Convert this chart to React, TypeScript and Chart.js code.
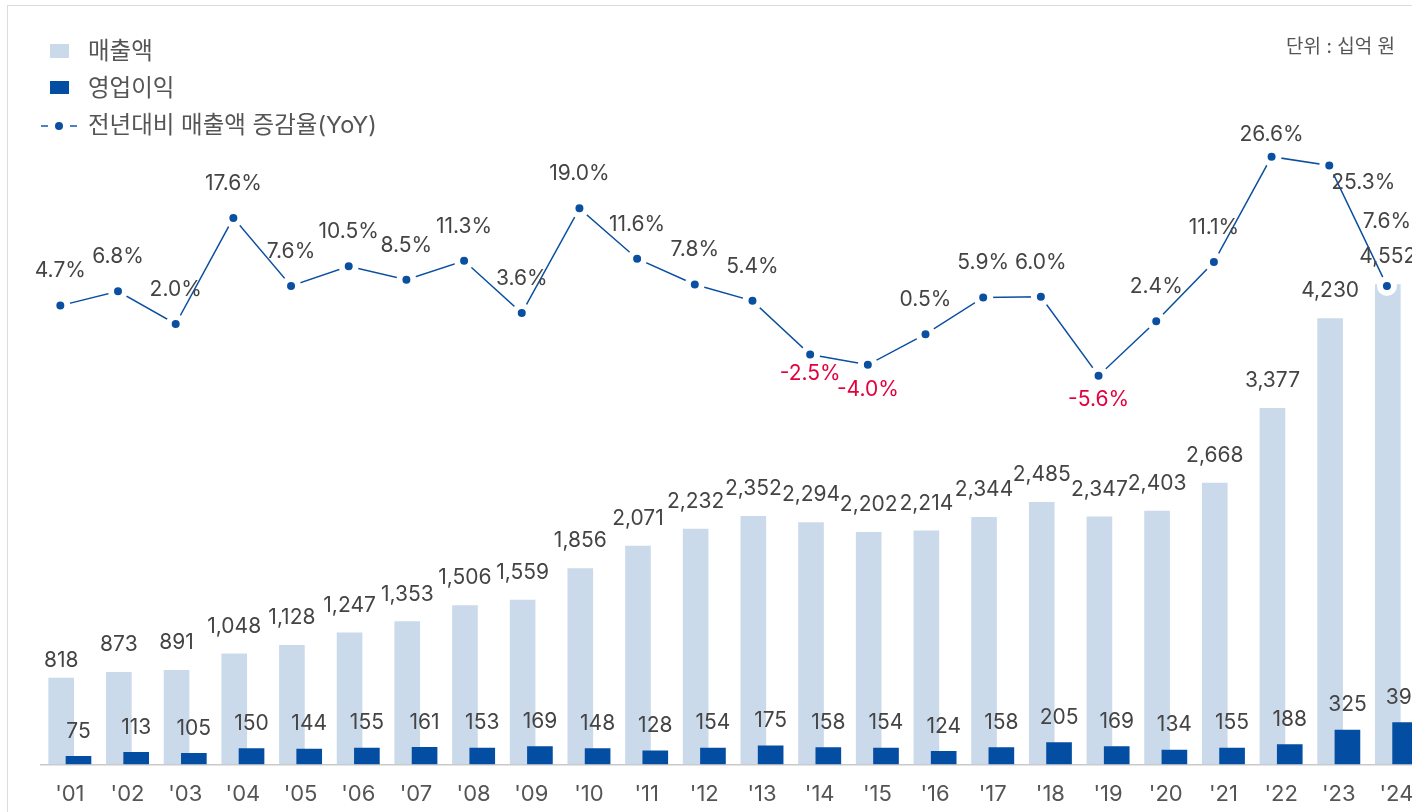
import React, { useEffect, useRef } from 'react';
import { Chart, registerables } from 'chart.js';

Chart.register(...registerables);

const FONT = "Inter, 'Noto Sans CJK KR', sans-serif";

// ---- data ----
const years = ["'01", "'02", "'03", "'04", "'05", "'06", "'07", "'08", "'09", "'10", "'11", "'12", "'13", "'14", "'15", "'16", "'17", "'18", "'19", "'20", "'21", "'22", "'23", "'24"];
const sales = [818, 873, 891, 1048, 1128, 1247, 1353, 1506, 1559, 1856, 2071, 2232, 2352, 2294, 2202, 2214, 2344, 2485, 2347, 2403, 2668, 3377, 4230, 4552];
const profit = [75, 113, 105, 150, 144, 155, 161, 153, 169, 148, 128, 154, 175, 158, 154, 124, 158, 205, 169, 134, 155, 188, 325, 395];
const yoy = [4.7, 6.8, 2.0, 17.6, 7.6, 10.5, 8.5, 11.3, 3.6, 19.0, 11.6, 7.8, 5.4, -2.5, -4.0, 0.5, 5.9, 6.0, -5.6, 2.4, 11.1, 26.6, 25.3, 7.6];

const legendNames = ['매출액', '영업이익', '전년대비 매출액 증감율(YoY)'];
const unitText = '단위 : 십억 원';

// ---- style ----
const C_SALES = '#cbdaeb';
const C_PROFIT = '#034ea2';
const C_LINE = '#0b4fa1';
const C_LEGEND_DASH = '#4a82c4';
const C_NEG = '#e3003c';
const C_LABEL = '#444444';
const C_TICK = '#555555';

const SALES_SHIFT = -0.15;
const PROFIT_SHIFT = 0.15;
const LINE_SHIFT = -0.165;

const SALES_LIFT = 27.5;
const PROFIT_LIFT = 25;
const YOY_ABOVE = 34.5;
const YOY_BELOW = 24.5;
const salesLiftOverride: Record<number, number> = { 0: 17.5 };
const yoyOffsetOverride: Record<number, [number, number]> = {
  13: [0, 19.5],
  21: [0, -22],
  22: [34, 17],
  23: [0, -64.6],
};

const labelPlugin = {
  id: 'valueLabels',
  afterDatasetsDraw(chart: any) {
    const ctx = chart.ctx;
    ctx.save();
    ctx.font = `21px ${FONT}`;
    ctx.textAlign = 'center';
    ctx.textBaseline = 'middle';
    const sMeta = chart.getDatasetMeta(0);
    sMeta.data.forEach((el: any, i: number) => {
      const lift = salesLiftOverride[i] ?? SALES_LIFT;
      ctx.fillStyle = C_LABEL;
      ctx.fillText(sales[i].toLocaleString('en-US'), el.x, el.y - lift);
    });
    const pMeta = chart.getDatasetMeta(1);
    pMeta.data.forEach((el: any, i: number) => {
      ctx.fillStyle = C_LABEL;
      ctx.fillText(profit[i].toLocaleString('en-US'), el.x, el.y - PROFIT_LIFT);
    });
    const lMeta = chart.getDatasetMeta(2);
    lMeta.data.forEach((el: any, i: number) => {
      const v = yoy[i];
      const neg = v < 0;
      const ov = yoyOffsetOverride[i];
      const dx = ov ? ov[0] : 0;
      const dy = ov ? ov[1] : neg ? YOY_BELOW : -YOY_ABOVE;
      ctx.fillStyle = neg ? C_NEG : C_LABEL;
      ctx.fillText(v.toFixed(1) + '%', el.x + dx, el.y + dy);
    });
    ctx.restore();
  },
};

export default function App() {
  const ref = useRef<HTMLCanvasElement | null>(null);

  useEffect(() => {
    if (!ref.current) return;
    Chart.defaults.font.family = FONT;
    const chart = new Chart(ref.current, {
      type: 'bar',
      data: {
        datasets: [
          {
            type: 'bar',
            label: legendNames[0],
            data: sales.map((v, i) => ({ x: i + SALES_SHIFT, y: v })),
            backgroundColor: C_SALES,
            barThickness: 25,
            grouped: false,
            yAxisID: 'y',
            order: 3,
          } as any,
          {
            type: 'bar',
            label: legendNames[1],
            data: profit.map((v, i) => ({ x: i + PROFIT_SHIFT, y: v })),
            backgroundColor: C_PROFIT,
            barThickness: 25,
            grouped: false,
            yAxisID: 'y',
            order: 2,
          } as any,
          {
            type: 'line',
            label: legendNames[2],
            data: yoy.map((v, i) => ({ x: i + LINE_SHIFT, y: v })),
            borderColor: C_LINE,
            borderWidth: 1.5,
            pointRadius: 7,
            pointBorderWidth: 6,
            pointBorderColor: '#ffffff',
            pointBackgroundColor: C_LINE,
            yAxisID: 'y1',
            order: 1,
          } as any,
        ],
      },
      options: {
        animation: false,
        responsive: false,
        events: [],
        layout: { padding: { left: 41, right: 14.7, top: 26.5, bottom: 0 } },
        plugins: { legend: { display: false }, tooltip: { enabled: false } },
        scales: {
          x: {
            type: 'linear',
            min: -0.5,
            max: 23.5,
            offset: false,
            grid: { display: false, drawTicks: false },
            border: { display: true, color: '#c9c9c9', width: 1.5 },
            afterBuildTicks: (scale: any) => {
              scale.ticks = years.map((_, i) => ({ value: i }));
            },
            afterFit: (scale: any) => {
              scale.height = 47.7;
            },
            ticks: {
              autoSkip: false,
              maxRotation: 0,
              padding: 17,
              color: C_TICK,
              font: { size: 22, family: FONT },
              callback: (v: any) => years[Math.round(Number(v))] ?? '',
            },
          },
          y: { display: false, min: 0, max: 7000 },
          y1: { display: false, min: -62.74, max: 45.74 },
        },
      } as any,
      plugins: [labelPlugin],
    });
    return () => chart.destroy();
  }, []);

  const legendText: React.CSSProperties = {
    position: 'absolute',
    left: 88,
    fontSize: 23.5,
    lineHeight: '28px',
    color: '#555',
    fontFamily: FONT,
    whiteSpace: 'nowrap',
  };

  return (
    <div style={{ position: 'fixed', left: 0, top: 0, width: 1412, height: 812, overflow: 'hidden', background: '#fff' }}>
      <div
        style={{
          position: 'absolute',
          left: 7,
          top: 5,
          width: 1500,
          height: 900,
          borderLeft: '1.5px solid #dcdcdc',
          borderTop: '1.5px solid #dcdcdc',
        }}
      />
      <canvas ref={ref} width={1440} height={812} style={{ position: 'absolute', left: 0, top: 0, width: 1440, height: 812 }} />
      <div style={{ position: 'absolute', left: 50, top: 44.3, width: 19, height: 13.4, background: C_SALES }} />
      <div style={{ ...legendText, top: 36.5 }}>{legendNames[0]}</div>
      <div style={{ position: 'absolute', left: 50, top: 81, width: 19, height: 13.4, background: C_PROFIT }} />
      <div style={{ ...legendText, top: 73.5 }}>{legendNames[1]}</div>
      <div style={{ position: 'absolute', left: 40.7, top: 124.7, width: 7.6, height: 2, background: C_LEGEND_DASH }} />
      <div style={{ position: 'absolute', left: 55, top: 121.7, width: 8, height: 8, borderRadius: 4, background: C_LINE }} />
      <div style={{ position: 'absolute', left: 69.5, top: 124.7, width: 7.6, height: 2, background: C_LEGEND_DASH }} />
      <div style={{ ...legendText, top: 111 }}>{legendNames[2]}</div>
      <div
        style={{
          position: 'absolute',
          right: 17,
          top: 35,
          fontSize: 19,
          lineHeight: '24px',
          color: '#555',
          fontFamily: FONT,
          whiteSpace: 'nowrap',
        }}
      >
        {unitText}
      </div>
    </div>
  );
}
